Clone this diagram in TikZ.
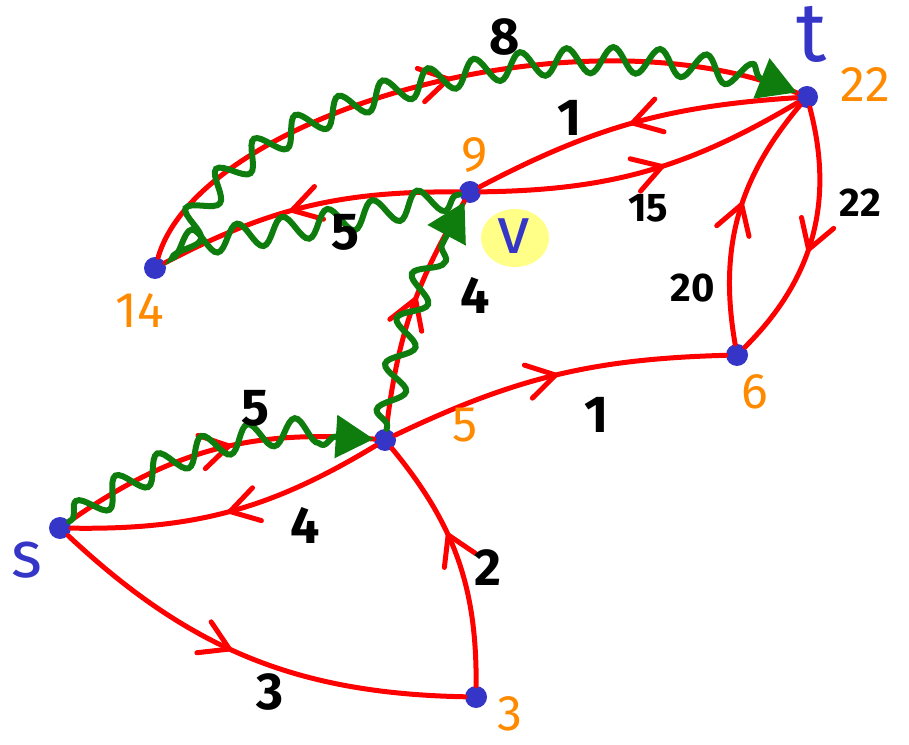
\documentclass[tikz,border=0pt]{standalone}
\usepackage{fontspec}
\setmainfont{Fira Sans}
\usepackage{xcolor}
\definecolor{dotblue}{HTML}{3535C8}
\definecolor{pathred}{HTML}{FF0000}
\definecolor{wavegreen}{HTML}{0E7D0E}
\definecolor{distorange}{HTML}{FF8A00}
\definecolor{marker}{HTML}{FFFF88}
\usetikzlibrary{arrows.meta,decorations.markings,decorations.pathmorphing}
\tikzset{
  vtx/.style   ={circle,fill=dotblue,minimum size=22pt,inner sep=0pt},
  wt/.style    ={font=\fontsize{52}{56}\selectfont\bfseries,text=black,inner sep=0pt},
  wtsm/.style  ={font=\fontsize{40}{44}\selectfont\bfseries,text=black,inner sep=0pt},
  dist/.style  ={font=\fontsize{50}{54}\selectfont,text=distorange,inner sep=0pt},
  vname/.style ={font=\fontsize{66}{70}\selectfont,text=dotblue,inner sep=0pt},
  link/.style  ={draw=pathred,line width=5pt,line cap=round,postaction={decorate},
                 decoration={markings,mark=at position #1 with
                 {\draw[pathred,line width=5pt,line cap=round,line join=round]
                   (-28pt,17pt) -- (0pt,0pt) -- (-28pt,-17pt);}}},
  link/.default=0.5,
  wave/.style  ={draw=wavegreen,line width=6pt,line cap=round,decorate,
                 decoration={snake,amplitude=13pt,segment length=46pt,
                 pre length=3pt,post length=28pt},
                 -{Triangle[length=38pt,width=42pt]}},
}

\begin{document}
\begin{tikzpicture}[x=1pt,y=1pt]
\useasboundingbox (0,0) rectangle (909,744);
% highlight behind v
\fill[marker] (515,506) ellipse (34pt and 29pt);

% vertices
\node[vtx] (s) at (60,216) {};
\node[vtx] (b) at (385,304) {};
\node[vtx] (v) at (470,552) {};
\node[vtx] (t) at (807,647) {};
\node[vtx] (c) at (155,476) {};
\node[vtx] (d) at (737,389) {};
\node[vtx] (e) at (476,47) {};
\coordinate (turn) at (172,500);

%================= red edges
\draw[link=0.55] (s) to[bend left=20] (b);
\draw[link=0.5]  (b) to[bend left=16] (s);
\draw[link=0.45] (s) to[bend right=21] (e);
\draw[link=0.6]  (e) to[bend right=20] (b);
\draw[link=0.5]  (b) to[bend left=12] (d);
\draw[link=0.55] (d) to[bend left=25] (t);
\draw[link=0.55] (t) to[bend left=30] (d);
\draw[link=0.55] (v) to[bend right=15] (t);
\draw[link=0.5]  (t) to[bend right=12] (v);
\draw[link=0.55] (v) to[bend right=14] (c);
\draw[link=0.55] (b) to[bend left=12] (v);
\draw[link=0.5]  (c) .. controls (200,630) and (580,740) .. (t);

%================= green shortest-path waves
\draw[wave] (s) to[bend left=20] (b);
\draw[wave] (b) to[bend left=10] (v);
\draw[wave] (v) to[bend left=3] (turn) .. controls (190,648) and (585,746) .. (t);

%================= weights
\node[wt]   (wsb) at (255,336) {5};
\node[wt]   (wbs) at (305,219) {4};
\node[wt]   (wse) at (270,52)  {3};
\node[wt]   (web) at (488,176) {2};
\node[wt]   (wbd) at (597,329) {1};
\node[wtsm] (wdt) at (693,456) {20};
\node[wtsm] (wtd) at (860,541) {22};
\node[wtsm] (wvt) at (648,536) {15};
\node[wt]   (wtv) at (570,626) {1};
\node[wt]   (wvc) at (345,512) {5};
\node[wt]   (wct) at (505,707) {8};
\node[wt]   (wbv) at (475,449) {4};

%================= distances
\node[dist] (db) at (465,319) {5};
\node[dist] (dv) at (475,589) {9};
\node[dist] (dt) at (865,659) {22};
\node[dist] (dc) at (140,433) {14};
\node[dist] (dd) at (755,352) {6};
\node[dist] (de) at (510,30)  {3};

%================= names
\node[vname] (ns) at (27,184)  {s};
\node[vname,font=\fontsize{84}{88}\selectfont] (nt) at (812,710) {t};
\node[vname] (nv) at (514,508) {v};
\end{tikzpicture}
\end{document}
